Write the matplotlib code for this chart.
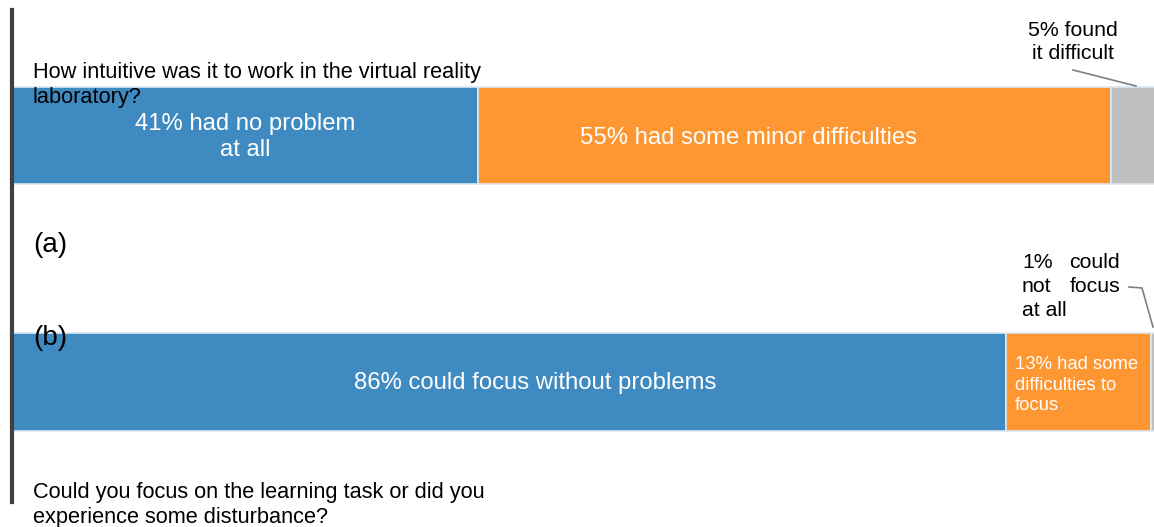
import matplotlib.pyplot as plt
from matplotlib.lines import Line2D

plt.rcParams['font.family'] = ['Liberation Sans', 'DejaVu Sans']

questions = ['(a)', '(b)']
answers = ['positive', 'minor', 'negative']
# segment widths in percent
vals_a = [40.8, 55.4, 5.0]
vals_b = [87.0, 12.7, 1.0]
colors = ['#3f8bc1', '#fe9631', '#bfbfbf']

W, H = 1154, 527
fig = plt.figure(figsize=(W / 100, H / 100), dpi=100)
ax = fig.add_axes([12 / W, 1 - 502 / H, 1 - 12 / W, 492 / H])

ypos = [0, 1]
for y, vals in zip(ypos, [vals_a, vals_b]):
    left = 0
    for v, c in zip(vals, colors):
        ax.barh(y, v, left=left, height=0.395, color=c, edgecolor='#dce8f2', linewidth=1.2)
        left += v

ax.set_xlim(0, 100)
ax.set_ylim(1.487, -0.509)
for s in ['top', 'right', 'bottom']:
    ax.spines[s].set_visible(False)
ax.spines['left'].set_color('#404040')
ax.spines['left'].set_linewidth(3)
ax.set_xticks([])
ax.set_yticks([])


def px(x, y):
    return x / W, 1 - y / H


# question texts
fig.text(*px(33, 85), 'How intuitive was it to work in the virtual reality\nlaboratory?',
         fontsize=15.7, ha='left', va='center', linespacing=1.19, color='black')
fig.text(*px(33, 505), 'Could you focus on the learning task or did you\nexperience some disturbance?',
         fontsize=15.7, ha='left', va='center', linespacing=1.19, color='black')

# panel labels
fig.text(*px(33, 245), questions[0], fontsize=20, ha='left', va='center')
fig.text(*px(33, 338), questions[1], fontsize=20, ha='left', va='center')

# labels inside the bars
fig.text(*px(245, 137), '41% had no problem\nat all', fontsize=17.2, color='white',
         ha='center', va='center', linespacing=1.22)
fig.text(*px(748, 138), '55% had some minor difficulties', fontsize=17.2, color='white',
         ha='center', va='center')
fig.text(*px(535, 383), '86% could focus without problems', fontsize=17.2, color='white',
         ha='center', va='center')
fig.text(*px(1015, 385), '13% had some\ndifficulties to\nfocus', fontsize=13.3, color='white',
         ha='left', va='center', linespacing=1.29)

# callouts for the small grey segments
fig.text(*px(1073, 42), '5% found\nit difficult', fontsize=15.3, ha='center', va='center',
         linespacing=1.22)
fig.add_artist(Line2D([1073 / W, 1136 / W], [1 - 70 / H, 1 - 86 / H],
                      transform=fig.transFigure, color='#7f7f7f', linewidth=1.2))
for yy, lw, rw in [(263, '1%', 'could'), (287, 'not', 'focus'), (310, 'at all', '')]:
    fig.text(*px(1022, yy), lw, fontsize=15.3, ha='left', va='center')
    if rw:
        fig.text(*px(1120, yy), rw, fontsize=15.3, ha='right', va='center')
fig.add_artist(Line2D([1129 / W, 1142 / W, 1153 / W], [1 - 287 / H, 1 - 288 / H, 1 - 327 / H],
                      transform=fig.transFigure, color='#7f7f7f', linewidth=1.2))

fig.savefig('out.png', dpi=100)
